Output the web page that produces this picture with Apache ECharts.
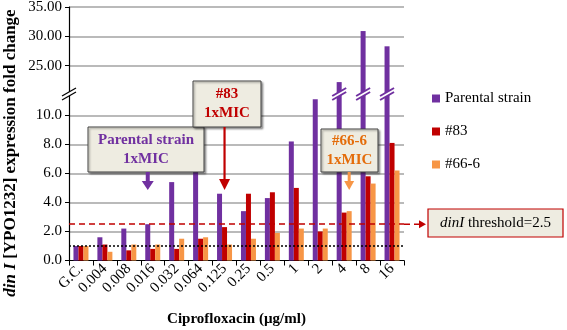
<!DOCTYPE html>
<html>
<head>
<meta charset="utf-8">
<script src="https://cdn.jsdelivr.net/npm/echarts@6/dist/echarts.min.js"></script>
<style>
  html, body { margin: 0; padding: 0; background: #fff; }
  #chart { width: 567px; height: 330px; }
</style>
</head>
<body>
<div id="chart"></div>
<script>
// values
const categories = ['G.C.', '0.004', '0.008', '0.016', '0.032', '0.064', '0.125', '0.25', '0.5', '1', '2', '4', '8', '16']
const parental = [1.0, 1.6, 2.2, 2.5, 5.4, 6.4, 4.6, 3.4, 4.3, 8.2, 11.1, 22.2, 30.9, 28.3]
const mutant83 = [1.0, 1.1, 0.7, 0.8, 0.8, 1.5, 2.3, 4.6, 4.7, 5.0, 2.0, 3.3, 5.8, 8.1]
const mutant666 = [1.0, 0.6, 1.1, 1.1, 1.5, 1.6, 1.1, 1.5, 1.9, 2.2, 2.2, 3.4, 5.3, 6.2]
const threshold = 2.5
const baseline = 1.0

// broken axis: lower part 0..11.4, upper part 20..35
const lowerMax = 11.4
const upperMin = 20
const upperMax = 35

const FONT = '"Liberation Serif", "Times New Roman", serif'
const C_PAR = '#7030A0'
const C_83 = '#C00000'
const C_66 = '#F79646'
const GRID_LINE = '#a3a3a3'
const BAR_W = 5

const chart = echarts.init(document.getElementById('chart'), null, { renderer: 'canvas' })

const upperOnly = arr => arr.map(v => (v > upperMin ? v : '-'))
const none = categories.map(() => '-')

const yAxisBase = {
  type: 'value',
  axisLine: { show: true, lineStyle: { color: '#000', width: 1.2 } },
  axisTick: { show: true, length: 4, lineStyle: { color: '#000' } },
  axisLabel: { color: '#000', fontFamily: FONT, fontSize: 15, margin: 7 },
  splitLine: { show: true, showMinLine: false, showMaxLine: false, lineStyle: { color: GRID_LINE, width: 1.5 } }
}

const barBase = { type: 'bar', barWidth: BAR_W, barGap: '0%', barCategoryGap: '33%' }

const option = {
  animation: false,
  backgroundColor: '#fff',
  grid: [
    { left: 69, width: 335, top: 7, height: 88, outerBoundsMode: 'none', containLabel: false },
    { left: 69, width: 335, top: 95, height: 165.5, outerBoundsMode: 'none', containLabel: false }
  ],
  xAxis: [
    { type: 'category', gridIndex: 0, data: categories, show: false },
    {
      type: 'category',
      gridIndex: 1,
      data: categories,
      axisLine: { show: true, lineStyle: { color: '#000', width: 1.2 } },
      axisTick: { show: true, length: 5, lineStyle: { color: '#000' } },
      axisLabel: { rotate: 45, interval: 0, color: '#000', fontFamily: FONT, fontSize: 15, margin: 6 },
      name: 'Ciprofloxacin (\u00b5g/ml)',
      nameLocation: 'middle',
      nameGap: 51,
      nameTextStyle: { color: '#000', fontFamily: FONT, fontSize: 15, fontWeight: 'bold' }
    }
  ],
  yAxis: [
    {
      ...yAxisBase,
      gridIndex: 0,
      min: upperMin,
      max: upperMax,
      interval: 5,
      axisLabel: { ...yAxisBase.axisLabel, formatter: v => (v === upperMin ? '' : v.toFixed(2)) },
      splitLine: { ...yAxisBase.splitLine, showMaxLine: true }
    },
    {
      ...yAxisBase,
      gridIndex: 1,
      min: 0,
      max: lowerMax,
      interval: 2,
      axisLabel: { ...yAxisBase.axisLabel, formatter: v => (v % 2 === 0 ? v.toFixed(1) : '') }
    }
  ],
  legend: {
    data: ['Parental strain', '#83', '#66-6'],
    orient: 'vertical',
    left: 427,
    top: 86,
    icon: 'rect',
    itemWidth: 8,
    itemHeight: 8,
    itemGap: 18,
    textStyle: { color: '#000', fontFamily: FONT, fontSize: 15 }
  },
  series: [
    { ...barBase, name: 'Parental strain', xAxisIndex: 0, yAxisIndex: 0, data: upperOnly(parental), itemStyle: { color: C_PAR } },
    { ...barBase, name: '#83', xAxisIndex: 0, yAxisIndex: 0, data: none, itemStyle: { color: C_83 } },
    { ...barBase, name: '#66-6', xAxisIndex: 0, yAxisIndex: 0, data: none, itemStyle: { color: C_66 } },
    {
      ...barBase, name: 'Parental strain', xAxisIndex: 1, yAxisIndex: 1, data: parental, itemStyle: { color: C_PAR },
      markLine: {
        silent: true,
        symbol: 'none',
        label: { show: false },
        data: [
          { yAxis: threshold, lineStyle: { color: C_83, type: [6, 4], width: 1.5 } },
          { yAxis: baseline, lineStyle: { color: '#000', type: [2, 2], width: 1.5 } }
        ]
      }
    },
    { ...barBase, name: '#83', xAxisIndex: 1, yAxisIndex: 1, data: mutant83, itemStyle: { color: C_83 } },
    { ...barBase, name: '#66-6', xAxisIndex: 1, yAxisIndex: 1, data: mutant666, itemStyle: { color: C_66 } }
  ]
}

chart.setOption(option)

// annotations placed from the axis scales
const px = (i, v) => chart.convertToPixel({ xAxisIndex: 1, yAxisIndex: 1 }, [i, v])
const breakY = chart.convertToPixel({ yAxisIndex: 1 }, lowerMax)
const axisX = px(0, 0)[0] - (px(1, 0)[0] - px(0, 0)[0]) / 2
const plotRight = axisX + 335
const thrY = px(0, threshold)[1]

function breakMark(cx, cy, color, lw) {
  return [
    { type: 'polygon', z: 50, shape: { points: [[cx - 7, cy + 6], [cx + 7, cy - 2], [cx + 7, cy - 6], [cx - 7, cy + 2]] }, style: { fill: '#fff' } },
    { type: 'line', z: 51, shape: { x1: cx - 7, y1: cy + 6, x2: cx + 7, y2: cy - 2 }, style: { stroke: color, lineWidth: lw } },
    { type: 'line', z: 51, shape: { x1: cx - 7, y1: cy + 2, x2: cx + 7, y2: cy - 6 }, style: { stroke: color, lineWidth: lw } }
  ]
}

function callout(x, y, w, h, lines, color) {
  return [
    {
      type: 'rect', z: 60, shape: { x, y, width: w, height: h },
      style: { fill: '#EEECE1', stroke: '#404040', lineWidth: 1, shadowBlur: 2, shadowOffsetX: 1.5, shadowOffsetY: 1.5, shadowColor: 'rgba(0,0,0,0.35)' }
    },
    {
      type: 'text', z: 61, x: x + w / 2, y: y + h / 2,
      style: { text: lines.join('\n'), fill: color, font: 'bold 15px ' + FONT, align: 'center', verticalAlign: 'middle', lineHeight: 19 }
    }
  ]
}

function arrow(cx, y0, y1, headY, shaftW, headW, color) {
  return [
    { type: 'rect', z: 60, shape: { x: cx - shaftW / 2, y: y0, width: shaftW, height: headY - y0 }, style: { fill: color } },
    { type: 'polygon', z: 60, shape: { points: [[cx - headW / 2, headY], [cx + headW / 2, headY], [cx, y1]] }, style: { fill: color } }
  ]
}

const elements = []
// axis break
elements.push(...breakMark(axisX, breakY - 1, '#000', 1.2))
// bar breaks for parental bars running past the lower scale
parental.forEach((v, i) => {
  if (v > lowerMax) {
    elements.push(...breakMark(px(i, 0)[0] - BAR_W, breakY - 1, C_PAR, 2))
  }
})

const tipY = 190
const xPar = px(3, 0)[0] - BAR_W
const x83 = px(6, 0)[0]
const x66 = px(11, 0)[0] + BAR_W

elements.push(...callout(88, 127, 116, 45, ['Parental strain', '1xMIC'], C_PAR))
elements.push(...arrow(xPar, 172, tipY, 181, 4, 12, C_PAR))
elements.push(...callout(193, 81, 68, 46, ['#83', '1xMIC'], C_83))
elements.push(...arrow(x83, 127, tipY, 179, 2.2, 11, C_83))
elements.push(...callout(321, 129, 57, 43, ['#66-6', '1xMIC'], '#E46C0A'))
elements.push(...arrow(x66, 172, tipY, 181, 3, 10, C_66))

// threshold arrow and label
elements.push({ type: 'line', z: 40, shape: { x1: plotRight, y1: thrY, x2: 420, y2: thrY }, style: { stroke: C_83, lineWidth: 1.5, lineDash: [6, 4] } })
elements.push({ type: 'polygon', z: 40, shape: { points: [[419, thrY - 4], [426, thrY], [419, thrY + 4]] }, style: { fill: C_83 } })
elements.push({ type: 'rect', z: 60, shape: { x: 428, y: 209, width: 135, height: 28 }, style: { fill: '#EEECE1', stroke: C_83, lineWidth: 1.2 } })
elements.push({
  type: 'text', z: 61, x: 495.5, y: 223,
  style: {
    text: '{i|dinI} threshold=2.5', align: 'center', verticalAlign: 'middle', fill: '#000', font: '15px ' + FONT,
    rich: { i: { fontStyle: 'italic', fontFamily: FONT, fontSize: 15, fill: '#000' } }
  }
})

// y axis title spans both parts
elements.push({
  type: 'text', z: 61, x: 11, y: 153, rotation: Math.PI / 2,
  style: {
    text: '{i|din I} [YPO1232] expression fold change', align: 'center', verticalAlign: 'middle', fill: '#000', font: 'bold 17px ' + FONT,
    rich: { i: { fontStyle: 'italic', fontWeight: 'bold', fontFamily: FONT, fontSize: 17, fill: '#000' } }
  }
})

chart.setOption({ graphic: { elements } })
</script>
</body>
</html>
